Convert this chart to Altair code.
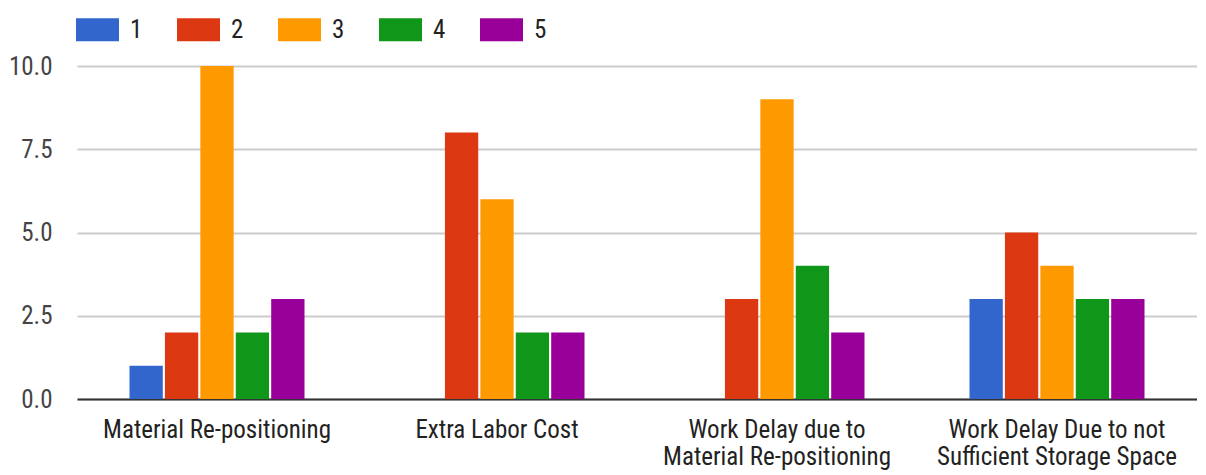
import altair as alt
import pandas as pd

categories = [
    "Material Re-positioning",
    "Extra Labor Cost",
    "Work Delay due to\nMaterial Re-positioning",
    "Work Delay Due to not\nSufficient Storage Space",
]
series = ["1", "2", "3", "4", "5"]
values_1 = [1, 0, 0, 3]
values_2 = [2, 8, 3, 5]
values_3 = [10, 6, 9, 4]
values_4 = [2, 2, 4, 3]
values_5 = [3, 2, 2, 3]
colors = ["#3366CC", "#DC3912", "#FF9900", "#109618", "#990099"]
y_ticks = [0, 2.5, 5, 7.5, 10]

rows = []
for s, vals in zip(series, [values_1, values_2, values_3, values_4, values_5]):
    for c, v in zip(categories, vals):
        rows.append({"category": c, "series": s, "value": v})
df = pd.DataFrame(rows)

FONT = "Roboto Condensed, Roboto, sans-serif"

chart = (
    alt.Chart(df)
    .mark_bar()
    .encode(
        x=alt.X(
            "category:N",
            sort=categories,
            scale=alt.Scale(paddingInner=0.375, paddingOuter=0.1875),
            axis=alt.Axis(
                title=None,
                labelAngle=0,
                labelExpr="split(datum.label, '\\n')",
                labelFont=FONT,
                labelFontSize=25,
                labelColor="#222222",
                labelPadding=18,
                labelLineHeight=27,
                labelLimit=0,
                ticks=False,
                domainColor="#333333",
                domainWidth=2,
                grid=False,
            ),
        ),
        xOffset=alt.XOffset("series:N", sort=series, scale=alt.Scale(paddingInner=0.06)),
        y=alt.Y(
            "value:Q",
            scale=alt.Scale(domain=[0, 10], nice=False),
            axis=alt.Axis(
                title=None,
                values=y_ticks,
                format=".1f",
                labelFont=FONT,
                labelFontSize=25,
                labelColor="#444444",
                labelPadding=25,
                ticks=False,
                domain=False,
                gridColor="#cccccc",
                gridWidth=2,
            ),
        ),
        color=alt.Color(
            "series:N",
            sort=series,
            scale=alt.Scale(domain=series, range=colors),
            legend=alt.Legend(
                title=None,
                orient="none",
                legendX=-1,
                legendY=-58,
                direction="horizontal",
                symbolType="M-1,-0.535H1V0.535H-1Z",
                symbolSize=1849,
                symbolStrokeWidth=0,
                symbolOpacity=1,
                labelFont=FONT,
                labelFontSize=25,
                labelColor="#222222",
                labelOffset=11,
                columnPadding=34,
            ),
        ),
    )
    .properties(width=1120, height=333)
    .configure_view(stroke=None)
    .properties(
        autosize=alt.AutoSizeParams(type="none"),
        padding={"left": 69, "top": 58, "right": 0, "bottom": 76},
        background="white",
    )
)

chart.save("out.html", embed_options={"renderer": "svg", "actions": False})
